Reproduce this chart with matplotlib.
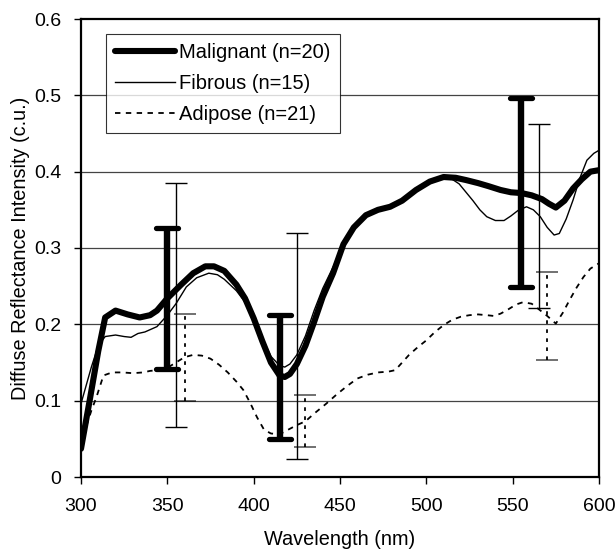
import matplotlib
matplotlib.use("Agg")
import matplotlib.pyplot as plt
from matplotlib.markers import MarkerStyle

plt.rcParams['font.family'] = ['Liberation Sans', 'DejaVu Sans']

mal_wl = [300, 305, 310, 314, 320, 327, 334, 340, 344, 350, 358, 365, 372, 377, 383,
          390, 395, 400, 405, 410, 415, 418, 421, 425, 430, 435, 440, 446, 452, 458,
          465, 472, 479, 486, 494, 502, 510, 517, 523, 530, 536, 543, 549, 555, 561,
          567, 571, 575, 580, 585, 590, 595, 600]
mal_val = [0.037, 0.100, 0.165, 0.209, 0.218, 0.213, 0.209, 0.212, 0.218, 0.234, 0.252,
           0.267, 0.276, 0.276, 0.270, 0.252, 0.234, 0.208, 0.178, 0.150, 0.133, 0.131,
           0.135, 0.148, 0.172, 0.203, 0.236, 0.267, 0.305, 0.327, 0.343, 0.350, 0.354,
           0.362, 0.376, 0.387, 0.393, 0.392, 0.389, 0.385, 0.381, 0.376, 0.373, 0.372,
           0.369, 0.364, 0.358, 0.353, 0.362, 0.378, 0.390, 0.400, 0.402]

fib_wl = [300, 306, 310, 314, 320, 325, 329, 333, 337, 344, 350, 355, 361, 367, 374,
          379, 383, 390, 395, 400, 405, 410, 415, 418, 421, 425, 430, 435, 440, 446,
          452, 458, 465, 472, 479, 486, 494, 502, 510, 515, 519, 523, 527, 531, 535,
          540, 545, 549, 553, 558, 562, 566, 570, 574, 577, 581, 585, 589, 593, 597, 600]
fib_val = [0.096, 0.144, 0.172, 0.184, 0.186, 0.184, 0.183, 0.188, 0.190, 0.197, 0.212,
           0.227, 0.249, 0.261, 0.267, 0.265, 0.259, 0.244, 0.229, 0.207, 0.182, 0.158,
           0.146, 0.144, 0.148, 0.160, 0.185, 0.218, 0.247, 0.275, 0.305, 0.327, 0.343,
           0.350, 0.354, 0.362, 0.376, 0.387, 0.392, 0.390, 0.384, 0.373, 0.362, 0.350,
           0.341, 0.336, 0.336, 0.342, 0.349, 0.354, 0.350, 0.341, 0.327, 0.317, 0.319,
           0.338, 0.363, 0.392, 0.415, 0.424, 0.428]

adi_wl = [300, 303, 306, 309, 313, 318, 324, 330, 336, 340, 345, 350, 355, 360, 365,
          370, 375, 380, 385, 390, 394, 398, 402, 406, 410, 415, 420, 425, 430, 435,
          442, 448, 454, 460, 466, 472, 478, 482, 486, 490, 495, 500, 505, 510, 515,
          520, 525, 530, 535, 539, 543, 547, 552, 556, 561, 565, 570, 575, 579, 583,
          587, 591, 595, 600]
adi_val = [0.055, 0.066, 0.087, 0.105, 0.133, 0.137, 0.137, 0.136, 0.137, 0.139, 0.140,
           0.143, 0.150, 0.157, 0.160, 0.159, 0.155, 0.147, 0.137, 0.125, 0.114, 0.097,
           0.078, 0.062, 0.057, 0.056, 0.062, 0.068, 0.073, 0.083, 0.096, 0.108, 0.119,
           0.129, 0.134, 0.137, 0.138, 0.140, 0.150, 0.160, 0.170, 0.179, 0.190, 0.199,
           0.206, 0.210, 0.212, 0.213, 0.212, 0.211, 0.214, 0.219, 0.226, 0.229, 0.227,
           0.220, 0.211, 0.201, 0.215, 0.232, 0.248, 0.262, 0.273, 0.280]

mal_err_wl = [350, 415, 555]
mal_err_mean = [0.234, 0.131, 0.373]
mal_err = [0.092, 0.081, 0.124]

fib_err_wl = [355, 425, 565]
fib_err_mean = [0.225, 0.171, 0.342]
fib_err = [0.160, 0.148, 0.120]

adi_err_wl = [360, 430, 570]
adi_err_mean = [0.157, 0.073, 0.211]
adi_err = [0.057, 0.034, 0.058]

labels = ['Malignant (n=20)', 'Fibrous (n=15)', 'Adipose (n=21)']
x_ticks = [300, 350, 400, 450, 500, 550, 600]
y_ticks = [0, 0.1, 0.2, 0.3, 0.4, 0.5, 0.6]
y_tick_labels = ['0', '0.1', '0.2', '0.3', '0.4', '0.5', '0.6']

fig = plt.figure(figsize=(6.16, 5.54), dpi=100)
ax = fig.add_axes([81/616, 77/554, 518/616, 458/554])

for y in y_ticks[1:-1]:
    ax.axhline(y, color='#444444', lw=0.9, zorder=0)

l1, = ax.plot(mal_wl, mal_val, color='black', lw=4.4, solid_joinstyle='round',
              solid_capstyle='round', zorder=3)
l2, = ax.plot(fib_wl, fib_val, color='black', lw=1.0, zorder=4)
l3, = ax.plot(adi_wl, adi_val, color='black', lw=1.3, linestyle=(0, (3, 3)), zorder=2)

ebm = ax.errorbar(mal_err_wl, mal_err_mean, yerr=mal_err, fmt='none', ecolor='black',
                  elinewidth=4.6, capsize=8, capthick=3.8, zorder=3)
for cap in ebm.lines[1]:
    cap.set_marker(MarkerStyle('_', capstyle='round'))
ax.errorbar(fib_err_wl, fib_err_mean, yerr=fib_err, fmt='none', ecolor='black',
            elinewidth=1.0, capsize=8, capthick=1.0, zorder=4)
eb = ax.errorbar(adi_err_wl, adi_err_mean, yerr=adi_err, fmt='none', ecolor='black',
                 elinewidth=1.3, capsize=8, capthick=1.3, zorder=2)
for lc in eb.lines[2]:
    lc.set_linestyle((0, (2, 3)))
for cap in eb.lines[1]:
    cap.set_alpha(0.6)

ax.set_xlim(300, 600)
ax.set_ylim(0, 0.6)
ax.set_xticks(x_ticks)
ax.set_yticks(y_ticks)
ax.set_yticklabels(y_tick_labels)
ax.tick_params(direction='out', length=5, width=1, labelsize=14)
ax.tick_params(axis='y', pad=9)
ax.tick_params(axis='x', pad=10)
for s in ax.spines.values():
    s.set_linewidth(1.6)

ax.set_xlabel('Wavelength (nm)', fontsize=14.3, labelpad=11)
ax.set_ylabel('Diffuse Reflectance Intensity (c.u.)', fontsize=14.3, labelpad=3)

leg = ax.legend([l1, l2, l3], labels, loc='upper left', bbox_to_anchor=(0.048, 0.967),
                borderaxespad=0, fontsize=14.5, frameon=True, fancybox=False,
                handlelength=3.0, handletextpad=0.2, labelspacing=0.6,
                borderpad=0.45)
leg.get_frame().set_edgecolor('black')
leg.get_frame().set_linewidth(0.8)

fig.savefig('out.png', dpi=100)
